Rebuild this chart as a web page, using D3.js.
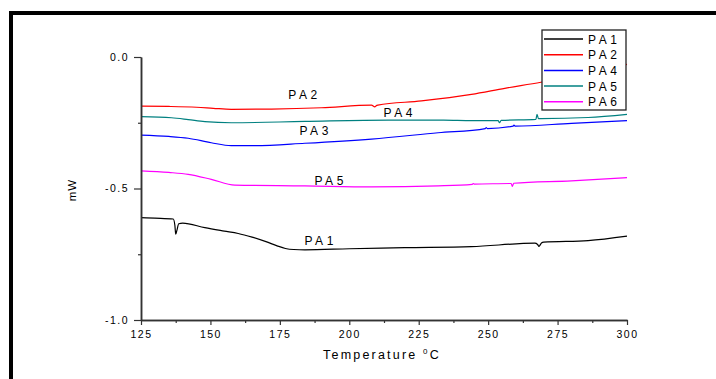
<!DOCTYPE html>
<html>
<head>
<meta charset="utf-8">
<script src="https://cdn.jsdelivr.net/npm/d3@7.9.0/dist/d3.min.js"></script>
<style>
  body { margin: 0; background: #fff; }
  svg { display: block; font-family: "Liberation Sans", Arial, sans-serif; }
</style>
</head>
<body>
<div id="chart"></div>
<script>
// DSC traces, temperature (°C) vs heat flow (mW)
const pa1Temp = [125, 130, 136.6, 137.2, 137.5, 137.9, 138.6, 140, 148, 155, 160, 165, 170, 174, 177, 180, 184, 200, 220, 244, 266.8, 267.8, 268.3, 269.2, 270, 286, 300];
const pa1Val  = [-0.611, -0.613, -0.616, -0.64, -0.674, -0.66, -0.634, -0.632, -0.649, -0.662, -0.671, -0.685, -0.702, -0.718, -0.728, -0.732, -0.733, -0.729, -0.725, -0.721, -0.708, -0.713, -0.72, -0.707, -0.704, -0.698, -0.681];

const pa2Temp = [125, 135, 145, 151, 157.5, 172, 190, 208, 209.2, 209.6, 210.3, 226, 244, 256, 269, 285, 300];
const pa2Val  = [-0.187, -0.188, -0.191, -0.195, -0.199, -0.198, -0.193, -0.183, -0.19, -0.186, -0.183, -0.167, -0.142, -0.119, -0.096, -0.062, -0.028];

const pa4Temp = [125, 135, 142, 150.3, 157.5, 166, 184, 208, 232, 249, 249.3, 249.7, 259, 259.3, 259.7, 280, 300];
const pa4Val  = [-0.297, -0.302, -0.309, -0.326, -0.337, -0.337, -0.328, -0.312, -0.288, -0.272, -0.268, -0.272, -0.263, -0.259, -0.263, -0.252, -0.242];

const pa5Temp = [125, 136, 142, 148, 157.5, 184, 214, 234, 244, 253.6, 254.1, 254.7, 267.2, 267.6, 268.1, 269, 286, 300];
const pa5Val  = [-0.227, -0.231, -0.238, -0.246, -0.25, -0.245, -0.24, -0.24, -0.242, -0.242, -0.25, -0.241, -0.237, -0.218, -0.234, -0.234, -0.23, -0.218];

const pa6Temp = [125, 135, 142, 150.3, 158.8, 184, 208, 232, 244.3, 244.6, 245, 258.3, 258.7, 259.2, 280, 300];
const pa6Val  = [-0.433, -0.439, -0.446, -0.465, -0.487, -0.49, -0.494, -0.49, -0.484, -0.481, -0.483, -0.481, -0.492, -0.48, -0.471, -0.459];

const seriesNames  = ["PA1", "PA2", "PA4", "PA5", "PA6"];
const seriesColors = ["#000000", "#ff0000", "#0000ff", "#008080", "#ff00ff"];

// text written on the curves in the plot
const noteText = ["PA2", "PA4", "PA3", "PA5", "PA1"];
const noteTemp = [183.9, 218.2, 187.9, 193.3, 189.7];
const noteVal  = [-0.144, -0.210, -0.278, -0.468, -0.696];

const xTicks = [125, 150, 175, 200, 225, 250, 275, 300];
const xMinor = [137.5, 162.5, 187.5, 212.5, 237.5, 262.5, 287.5];
const yTicks = [0, -0.5, -1];
const yMinor = [-0.25, -0.75];

const W = 716, H = 379;
const x = d3.scaleLinear().domain([125, 300]).range([141, 627]);
const y = d3.scaleLinear().domain([-1, 0]).range([320, 57]);

const svg = d3.select("#chart").append("svg")
    .attr("width", W)
    .attr("height", H);

// page frame (top and left edges only visible)
svg.append("path")
    .attr("d", "M11,379 V13 H716")
    .attr("fill", "none")
    .attr("stroke", "#000")
    .attr("stroke-width", 4);

const series = [
  { temp: pa1Temp, val: pa1Val },
  { temp: pa2Temp, val: pa2Val },
  { temp: pa4Temp, val: pa4Val },
  { temp: pa5Temp, val: pa5Val },
  { temp: pa6Temp, val: pa6Val }
];

const line = d3.line()
    .x(d => x(d[0]))
    .y(d => y(d[1]))
    .curve(d3.curveMonotoneX);

series.forEach((s, i) => {
  svg.append("path")
      .datum(d3.zip(s.temp, s.val))
      .attr("d", line)
      .attr("fill", "none")
      .attr("stroke", seriesColors[i])
      .attr("stroke-width", 1.2);
});

// axes
const styleAxis = g => {
  g.select(".domain").attr("stroke", "#333").attr("stroke-width", 1.5);
  g.selectAll(".tick line").attr("stroke", "#333").attr("stroke-width", 1.2);
  g.selectAll("text")
      .attr("fill", "#000")
      .style("font-size", "10.5px")
      .style("letter-spacing", "1.5px");
};

svg.append("g")
    .attr("transform", `translate(0,${y(-1)})`)
    .call(d3.axisBottom(x).tickValues(xMinor).tickSize(3).tickFormat("").tickSizeOuter(0))
    .call(styleAxis);

svg.append("g")
    .attr("transform", `translate(0,${y(-1)})`)
    .call(d3.axisBottom(x).tickValues(xTicks).tickSize(5).tickPadding(6).tickSizeOuter(0).tickFormat(d3.format("d")))
    .call(styleAxis);

svg.append("g")
    .attr("transform", `translate(${x(125)},0)`)
    .call(d3.axisLeft(y).tickValues(yMinor).tickSize(3).tickFormat("").tickSizeOuter(0))
    .call(styleAxis);

svg.append("g")
    .attr("transform", `translate(${x(125)},0)`)
    .call(d3.axisLeft(y).tickValues(yTicks).tickSize(7).tickPadding(5).tickSizeOuter(0).tickFormat(d => d.toFixed(1)))
    .call(styleAxis);

// axis titles
const xt = svg.append("text")
    .attr("x", 382)
    .attr("y", 359)
    .attr("text-anchor", "middle")
    .style("font-size", "12.5px")
    .style("letter-spacing", "2.2px");
xt.append("tspan").text("Temperature ");
xt.append("tspan").attr("dy", -5).style("font-size", "8px").text("0");
xt.append("tspan").attr("dy", 5).text("C");

svg.append("text")
    .attr("transform", "translate(76,190) rotate(-90)")
    .attr("text-anchor", "middle")
    .style("font-size", "11.5px")
    .style("letter-spacing", "1px")
    .text("mW");

// labels on curves
svg.selectAll(".note")
  .data(noteText)
  .join("text")
    .attr("class", "note")
    .attr("x", (d, i) => x(noteTemp[i]))
    .attr("y", (d, i) => y(noteVal[i]) + 4.5)
    .attr("text-anchor", "middle")
    .style("font-size", "12px")
    .style("letter-spacing", "3.6px")
    .text(d => d);

// legend
const legend = svg.append("g").attr("transform", "translate(542,30)");
legend.append("rect")
    .attr("width", 84)
    .attr("height", 80)
    .attr("fill", "#fff")
    .attr("stroke", "#222")
    .attr("stroke-width", 1.3);

seriesNames.forEach((name, i) => {
  const ly = 9 + i * 15.7;
  legend.append("line")
      .attr("x1", 2).attr("x2", 41)
      .attr("y1", ly).attr("y2", ly)
      .attr("stroke", seriesColors[i])
      .attr("stroke-width", 1.5);
  legend.append("text")
      .attr("x", 46)
      .attr("y", ly + 4.5)
      .style("font-size", "12px")
      .style("letter-spacing", "3.6px")
      .text(name);
});
</script>
</body>
</html>
